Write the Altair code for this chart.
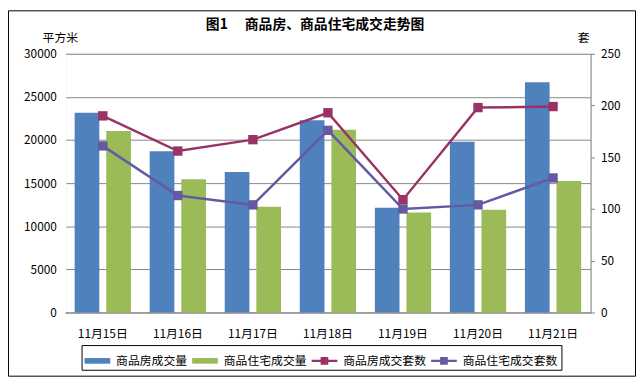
import altair as alt
import pandas as pd

dates = ["11月15日", "11月16日", "11月17日", "11月18日", "11月19日", "11月20日", "11月21日"]
bar_series = ["商品房成交量", "商品住宅成交量"]
line_series = ["商品房成交套数", "商品住宅成交套数"]
house_area = [23150, 18700, 16300, 22300, 12150, 19800, 26700]
resid_area = [21050, 15450, 12250, 21200, 11600, 11900, 15250]
house_units = [190, 156, 167, 193, 109, 198, 199]
resid_units = [161, 113, 104, 176, 100, 104, 130]
left_ticks = [0, 5000, 10000, 15000, 20000, 25000, 30000]
right_ticks = [0, 50, 100, 150, 200, 250]
colors = ["#4F81BD", "#9BBB59", "#993366", "#6659A3"]
title_text = "图1\u3000\u00a0商品房、商品住宅成交走势图"

FONT = "Noto Sans CJK SC"

bars = pd.DataFrame({
    "date": dates * 2,
    "series": [bar_series[0]] * 7 + [bar_series[1]] * 7,
    "value": house_area + resid_area,
})
lines = pd.DataFrame({
    "date": dates * 2,
    "series": [line_series[0]] * 7 + [line_series[1]] * 7,
    "count": house_units + resid_units,
})

all_series = bar_series + line_series
xscale = alt.Scale(domain=dates, paddingInner=0, paddingOuter=0)
cscale = alt.Scale(domain=all_series, range=colors)

rect_path = "M-1,-0.22H1V0.22H-1Z"
line_path = "M-1,-0.08H1V0.08H-1Z M-0.3,-0.3H0.3V0.3H-0.3Z"
shape_expr = ("indexof(['商品房成交量','商品住宅成交量'], datum.value) >= 0 ? '"
              + rect_path + "' : '" + line_path + "'")

legend = alt.Legend(
    orient="none", legendX=16.5, legendY=295, direction="horizontal", columns=4,
    title=None, labelFont=FONT, labelFontSize=12, labelColor="black",
    symbolSize=676, labelOffset=6, columnPadding=4, padding=3,
    strokeColor="black", symbolStrokeWidth=0, symbolOpacity=1,
    symbolType={"expr": shape_expr},
)

bar_layer = alt.Chart(bars).mark_bar().encode(
    x=alt.X("date:N", scale=xscale, sort=dates,
            axis=alt.Axis(title=None, labelAngle=0, ticks=False, tickSize=0, labelPadding=21,
                          labelBaseline="middle", domain=True, domainColor="#868686",
                          grid=False, zindex=0,
                          labelFont=FONT, labelFontSize=12, labelColor="black")),
    xOffset=alt.XOffset("series:N", sort=bar_series,
                        scale=alt.Scale(domain=bar_series, paddingInner=0.21875, paddingOuter=0.297)),
    y=alt.Y("value:Q", scale=alt.Scale(domain=[0, 30000], nice=False),
            axis=alt.Axis(orient="left", values=left_ticks, format="d", grid=True,
                          gridColor="#868686", zindex=0,
                          domain=False, ticks=False, labelPadding=9,
                          labelFont=FONT, labelFontSize=12, labelColor="black",
                          title="平方米", titleAngle=0, titleX=-5.5, titleY=-16,
                          titleAlign="center", titleBaseline="middle",
                          titleFont=FONT, titleFontSize=12, titleFontWeight="normal",
                          titleColor="black")),
    color=alt.Color("series:N", scale=cscale, legend=legend),
)

line_layer = alt.Chart(lines).mark_line(
    strokeWidth=2.5,
    point=alt.OverlayMarkDef(shape="square", size=90, filled=True, opacity=1),
).encode(
    x=alt.X("date:N", scale=xscale, sort=dates, bandPosition=0.5),
    y=alt.Y("count:Q", scale=alt.Scale(domain=[0, 250], nice=False),
            axis=alt.Axis(orient="right", values=right_ticks, format="d", grid=False,
                          domain=True, domainColor="#868686", ticks=True, tickSize=4,
                          tickColor="#868686", labelPadding=6, zindex=0,
                          labelFont=FONT, labelFontSize=12, labelColor="black",
                          title="套", titleAngle=0, titleX=-7.5, titleY=-16,
                          titleAlign="center", titleBaseline="middle",
                          titleFont=FONT, titleFontSize=12, titleFontWeight="normal",
                          titleColor="black")),
    color=alt.Color("series:N", scale=cscale, legend=legend),
)

title_layer = alt.Chart(pd.DataFrame({"t": [title_text]})).mark_text(
    font=FONT, fontSize=14, fontWeight="bold", color="black", baseline="middle", align="center"
).encode(x=alt.value(253), y=alt.value(-29), text="t:N")

frame = alt.Chart(pd.DataFrame({"a": [0]})).mark_rect(
    fill="transparent", stroke="black", strokeWidth=1
).encode(x=alt.value(-57.5), x2=alt.value(577.5), y=alt.value(-43.5), y2=alt.value(326.5))

# white cover over the stray vertical edge line at the plot's left side
cover = alt.Chart(pd.DataFrame({"a": [0]})).mark_rule(
    color="white", strokeWidth=2
).encode(x=alt.value(0), y=alt.value(0.5), y2=alt.value(261.5))

chart = alt.layer(bar_layer, line_layer, cover, title_layer, frame).resolve_scale(
    y="independent"
).properties(
    width=532, height=262,
    autosize=alt.AutoSizeParams(type="none"),
    padding={"left": 58, "top": 44, "right": 46, "bottom": 65},
).configure_view(stroke=None, strokeWidth=0, strokeOpacity=0).configure(
    background="white"
).configure_axisLeft(domain=False).configure_axisX(grid=False)

chart.save("out.html", embed_options={"renderer": "svg", "actions": False})
